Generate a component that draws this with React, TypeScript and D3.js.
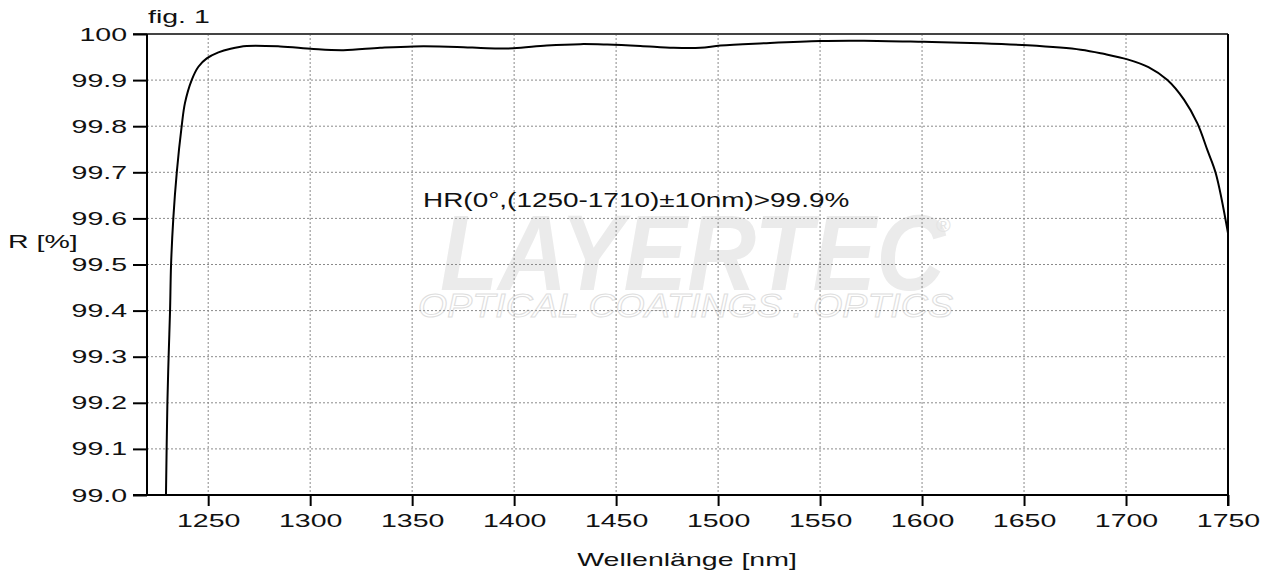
import * as d3 from 'd3';
import { useEffect, useRef } from 'react';

const wavelengths = [
  1229.3, 1230.0, 1230.6, 1231.3, 1231.8, 1232.9, 1234.6, 1237.0, 1238.6, 1241.9, 1245.2, 1249.3,
  1255.0, 1261.0, 1268.9, 1285.3, 1301.6, 1316.3, 1334.3, 1350.7, 1372.0, 1386.7, 1399.7,
  1416.0, 1432.5, 1445.6, 1461.9, 1478.2, 1491.3, 1501.2, 1522.4, 1550.2, 1571.5, 1600.9,
  1628.5, 1651.7, 1677.8, 1689.0, 1700.7, 1711.0, 1720.3, 1728.5, 1735.0, 1739.9, 1744.0, 1750.0,
];
const reflectance = [
  99.0, 99.2, 99.3, 99.4, 99.5, 99.6, 99.7, 99.8, 99.85, 99.9, 99.929, 99.947,
  99.960, 99.968, 99.974, 99.973, 99.9675, 99.965, 99.97, 99.973, 99.972, 99.969, 99.969,
  99.975, 99.978, 99.977, 99.974, 99.97, 99.97, 99.975, 99.98, 99.985, 99.9855, 99.983,
  99.98, 99.9755, 99.966, 99.957, 99.945, 99.928, 99.9, 99.857, 99.806, 99.748, 99.698, 99.568,
];
const xTicks = [1250, 1300, 1350, 1400, 1450, 1500, 1550, 1600, 1650, 1700, 1750];
const yTicks = [99.0, 99.1, 99.2, 99.3, 99.4, 99.5, 99.6, 99.7, 99.8, 99.9, 100];
const yTickLabels = ['99.0', '99.1', '99.2', '99.3', '99.4', '99.5', '99.6', '99.7', '99.8', '99.9', '100'];

const W = 1272;
const H = 575;
const FONT = '"Liberation Sans", Arial, sans-serif';
// the original's lettering is stretched sideways
const STRETCH = 1.5;

export default function App() {
  const ref = useRef<SVGSVGElement>(null);

  useEffect(() => {
    const svg = d3.select(ref.current);
    svg.selectAll('*').remove();

    const margin = { left: 147, right: W - 1228, top: 34, bottom: H - 495 };
    const x = d3.scaleLinear().domain([1220, 1750]).range([margin.left, W - margin.right]);
    const y = d3.scaleLinear().domain([99.0, 100]).range([H - margin.bottom, margin.top]);

    svg.append('rect').attr('width', W).attr('height', H).attr('fill', '#fff');

    // watermark
    const wm = svg.append('g');
    wm.append('text')
      .attr('x', 440)
      .attr('y', 290)
      .attr('textLength', 505)
      .attr('lengthAdjust', 'spacingAndGlyphs')
      .style('font-family', FONT)
      .style('font-size', '108px')
      .style('font-weight', 'bold')
      .style('font-style', 'italic')
      .attr('fill', '#ebebeb')
      .text('LAYERTEC');
    wm.append('text')
      .attr('x', 936)
      .attr('y', 232)
      .style('font-family', FONT)
      .style('font-size', '20px')
      .attr('fill', '#e4e4e4')
      .text('®');
    wm.append('text')
      .attr('x', 418)
      .attr('y', 317)
      .attr('textLength', 535)
      .attr('lengthAdjust', 'spacingAndGlyphs')
      .style('font-family', FONT)
      .style('font-size', '34px')
      .style('font-style', 'italic')
      .attr('fill', 'none')
      .attr('stroke', '#dedede')
      .attr('stroke-width', 1)
      .text('OPTICAL COATINGS . OPTICS');

    // grid
    const grid = svg.append('g').attr('stroke', '#8a8a8a').attr('stroke-width', 1).attr('stroke-dasharray', '2,2');
    grid.selectAll('line.v')
      .data(xTicks.slice(0, -1))
      .enter()
      .append('line')
      .attr('x1', (d) => x(d))
      .attr('x2', (d) => x(d))
      .attr('y1', y(100))
      .attr('y2', y(99));
    grid.selectAll('line.h')
      .data(yTicks.slice(1, -1))
      .enter()
      .append('line')
      .attr('x1', x(1220))
      .attr('x2', x(1750))
      .attr('y1', (d) => y(d))
      .attr('y2', (d) => y(d));

    // curve
    const pts = wavelengths.map((w, i) => [w, reflectance[i]] as [number, number]);
    svg.append('defs')
      .append('clipPath')
      .attr('id', 'plotclip')
      .append('rect')
      .attr('x', x(1220))
      .attr('y', y(100))
      .attr('width', x(1750) - x(1220))
      .attr('height', y(99) - y(100));
    svg.append('path')
      .datum(pts)
      .attr('clip-path', 'url(#plotclip)')
      .attr('fill', 'none')
      .attr('stroke', '#000')
      .attr('stroke-width', 2)
      .attr('d', d3.line<[number, number]>()
        .x((d) => x(d[0]))
        .y((d) => y(d[1]))
        .curve(d3.curveCatmullRom.alpha(0.5)));

    // frame
    svg.append('line')
      .attr('x1', x(1220) - 14).attr('x2', x(1750))
      .attr('y1', y(100)).attr('y2', y(100))
      .attr('stroke', '#444').attr('stroke-width', 2);
    svg.append('line')
      .attr('x1', x(1750)).attr('x2', x(1750))
      .attr('y1', y(100)).attr('y2', y(99) + 11)
      .attr('stroke', '#000').attr('stroke-width', 2);

    const fitWidth = (sel: d3.Selection<any, any, any, any>) =>
      sel.each(function () {
        const el = this as SVGTextElement;
        const w = el.getComputedTextLength();
        el.setAttribute('textLength', String(w * STRETCH));
        el.setAttribute('lengthAdjust', 'spacingAndGlyphs');
      });

    const yAxis = svg.append('g')
      .attr('transform', `translate(${x(1220)},0)`)
      .call(d3.axisLeft(y).tickValues(yTicks).tickSize(14).tickPadding(6)
        .tickFormat((d, i) => yTickLabels[i]));
    yAxis.selectAll('line,path').attr('stroke', '#000').attr('stroke-width', 2);
    yAxis.select('.domain').attr('d', `M0,${y(100)}V${y(99)}`);
    yAxis.selectAll('text')
      .style('font-family', FONT)
      .style('font-size', '19px')
      .attr('fill', '#111')
      .call(fitWidth);

    const xAxis = svg.append('g')
      .attr('transform', `translate(0,${y(99)})`)
      .call(d3.axisBottom(x).tickValues(xTicks).tickSize(11).tickPadding(8).tickFormat(d3.format('d')));
    xAxis.selectAll('line,path').attr('stroke', '#000').attr('stroke-width', 2);
    xAxis.select('.domain').attr('d', `M${x(1220) - 14},0H${x(1750)}`);
    xAxis.selectAll('text')
      .style('font-family', FONT)
      .style('font-size', '19px')
      .attr('fill', '#111')
      .call(fitWidth);

    const label = (tx: number, ty: number, t: string, anchor = 'middle', size = 19, stretch = STRETCH) =>
      svg.append('text')
        .attr('x', tx)
        .attr('y', ty)
        .attr('text-anchor', anchor)
        .attr('dominant-baseline', 'central')
        .style('font-family', FONT)
        .style('font-size', `${size}px`)
        .attr('fill', '#111')
        .text(t)
        .each(function () {
          const el = this as SVGTextElement;
          el.setAttribute('textLength', String(el.getComputedTextLength() * stretch));
          el.setAttribute('lengthAdjust', 'spacingAndGlyphs');
        });

    label(148, 16, 'fig. 1', 'start');
    label(8, 241, 'R [%]', 'start');
    label(687, 559, 'Wellenlänge [nm]');
    label(423, 199, 'HR(0°,(1250-1710)±10nm)>99.9%', 'start', 21, 1.33);
  }, []);

  return <svg ref={ref} width={W} height={H} style={{ display: 'block', position: 'absolute', left: 0, top: 0 }} />;
}
